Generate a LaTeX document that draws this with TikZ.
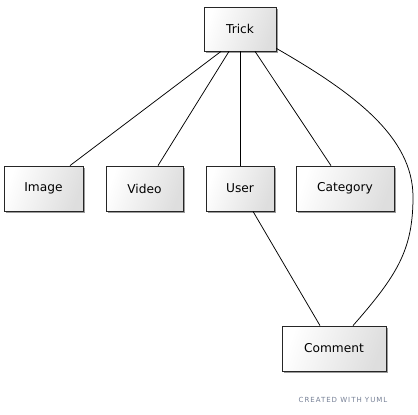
\documentclass[tikz,border=0pt]{standalone}
\usepackage{fontspec}
\setmainfont{DejaVu Sans}
\usetikzlibrary{shadows}
\definecolor{yumlgray}{RGB}{118,128,150}
\begin{document}
\begin{tikzpicture}[x=1pt,y=-1pt,
  cls/.style={draw=black!85, line width=0.8pt, rectangle, inner sep=0pt,
    left color=white, right color=black!13, shading angle=70,
    drop shadow={shadow xshift=1.6pt, shadow yshift=-1.6pt, fill=black!55, opacity=0.7},
    font=\fontsize{12.2}{14}\selectfont, minimum height=45pt},
  link/.style={draw=black, line width=0.75pt}]
\useasboundingbox[fill=white] (0,0) rectangle (418,415);
\node[cls, minimum width=72pt, minimum height=44pt] (trick) at (240,29) {Trick};
\node[cls, minimum width=79pt] (image) at (43.5,188.5) {Image};
\node[cls, minimum width=77pt] (video) at (144.5,188.5) {Video};
\node[cls, minimum width=68pt] (user) at (240,188.5) {User};
\node[cls, minimum width=98pt] (category) at (345,188.5) {Category};
\node[cls, minimum width=104pt] (comment) at (334,348.5) {Comment};
\coordinate (bend) at (413,197);
\draw[link] ([xshift=-19pt]trick.south) -- ([xshift=26.5pt]image.north);
\draw[link] ([xshift=-11pt]trick.south) -- ([xshift=13.5pt]video.north);
\draw[link] (trick.south) -- (user.north);
\draw[link] ([xshift=15pt]trick.south) -- ([xshift=-14pt]category.north);
\draw[link] ([xshift=13pt]user.south) -- ([xshift=-14pt]comment.north);
\draw[link] ([yshift=3pt]trick.south east) .. controls (354,93) and (413,137) .. (bend)
  .. controls (413,250) and (397,275.5) .. ([xshift=19pt]comment.north);
\node[text=yumlgray, font=\fontsize{7}{8}\selectfont\addfontfeature{LetterSpace=14}, inner sep=0pt] (credit) at (343,400) {CREATED WITH YUML};
\end{tikzpicture}
\end{document}
